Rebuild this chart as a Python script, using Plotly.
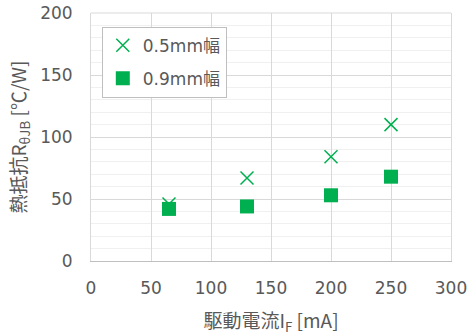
import plotly.graph_objects as go

current_mA = [65, 130, 200, 250]
r_05mm = [46, 67, 84, 110]
r_09mm = [42, 44, 53, 68]
series_names = ["0.5mm幅", "0.9mm幅"]

GREEN = "#00B050"
FONT = "DejaVu Sans, Noto Sans CJK JP"
TXT = "#595959"
GRID = "#D9D9D9"

fig = go.Figure()
fig.add_trace(go.Scatter(x=current_mA, y=r_05mm, mode="markers", name=series_names[0],
                         legendgroup="a",
                         marker=dict(symbol="x-thin", size=13, color=GREEN,
                                     line=dict(color=GREEN, width=1.5))))
fig.add_trace(go.Scatter(x=current_mA, y=r_09mm, mode="markers", name=series_names[1],
                         legendgroup="b",
                         marker=dict(symbol="square", size=14, color=GREEN)))

fig.update_layout(
    width=472, height=336,
    margin=dict(l=91, r=21, t=13, b=75, autoexpand=False),
    paper_bgcolor="white", plot_bgcolor="white",
    font=dict(family=FONT, size=17, color=TXT),
    showlegend=True,
    legend=dict(x=0.03, y=0.945, xanchor="left", yanchor="top",
                bgcolor="white", bordercolor="#BFBFBF", borderwidth=1,
                font=dict(family=FONT, size=17, color=TXT),
                itemwidth=30, tracegroupgap=8, valign="middle"),
    shapes=[dict(type="line", xref="paper", yref="paper", x0=0, x1=1, y0=1, y1=1,
                 line=dict(color=GRID, width=1), layer="below")],
)
fig.update_xaxes(range=[0, 300], dtick=50, tick0=0, showgrid=True, gridcolor=GRID,
                 gridwidth=1, zeroline=False, showline=True, linecolor="#BFBFBF",
                 ticks="", ticklabelstandoff=12, automargin=False,
                 ticklabeloverflow="allow",
                 title=dict(text="駆動電流I<sub>F</sub> [mA]", standoff=17,
                            font=dict(family="Noto Sans CJK JP", size=19, color=TXT)))
fig.update_yaxes(range=[0, 200], dtick=50, tick0=0, showgrid=True, gridcolor=GRID,
                 zeroline=False, showline=True, mirror=True, linecolor=GRID,
                 ticks="", ticklabelstandoff=14,
                 automargin=False, ticklabeloverflow="allow",
                 minor=dict(dtick=10, showgrid=True, gridcolor="#F0F0F0"),
                 title=dict(text="熱抵抗R<sub>θJB</sub> [℃/W]", standoff=8,
                            font=dict(family="Noto Sans CJK JP", size=19, color=TXT)))

fig.write_html("out.html", config={"displayModeBar": False},
               post_script="document.body.style.margin='0';")
